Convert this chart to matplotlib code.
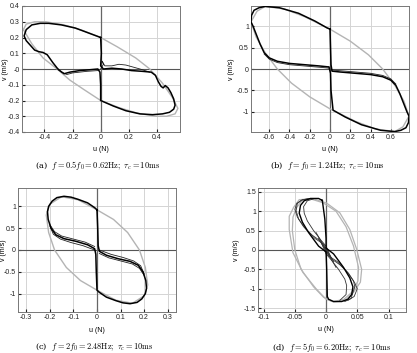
import matplotlib
matplotlib.use("Agg")
import matplotlib.pyplot as plt
import numpy as np

plt.rcParams['font.family'] = ['Liberation Sans', 'DejaVu Sans']
plt.rcParams['mathtext.fontset'] = 'cm'

# ---- panel (a): f = 0.5 f0 ----
a_u = [0, 0.005, 0.0, 0.02, 0.08, 0.15, 0.22, 0.30, 0.36, 0.39, 0.41, 0.43, 0.445, 0.46, 0.48,
       0.50, 0.52, 0.53, 0.52, 0.49, 0.44, 0.37, 0.28, 0.18, 0.09, 0.0, 0.0, -0.005, -0.02, -0.08,
       -0.15, -0.22, -0.26, -0.30, -0.34, -0.38, -0.41, -0.44, -0.47, -0.50, -0.53, -0.545, -0.53,
       -0.49, -0.43, -0.37, -0.28, -0.18, -0.09, 0.0]
a_v = [0.2, 0.1, 0.02, 0.0, 0.005, 0.0, -0.01, -0.015, -0.02, -0.04, -0.08, -0.11, -0.12, -0.105,
       -0.12, -0.15, -0.19, -0.23, -0.255, -0.275, -0.285, -0.29, -0.285, -0.265, -0.235, -0.2, -0.1,
       -0.02, 0.0, -0.005, -0.01, -0.02, -0.03, -0.005, 0.04, 0.09, 0.105, 0.11, 0.12, 0.15, 0.18,
       0.21, 0.25, 0.28, 0.29, 0.29, 0.28, 0.26, 0.23, 0.2]
a2_u = [0.0, 0.02, 0.01, 0.03, 0.08, 0.13, 0.18, 0.22, 0.28, 0.35]
a2_v = [0.0, 0.03, 0.05, 0.02, 0.02, 0.03, 0.025, 0.015, 0.0, -0.02]
a3_u = [-0.02, -0.1, -0.2, -0.24, -0.28, -0.3]
a3_v = [-0.01, -0.015, -0.025, -0.035, -0.02, 0.0]
ag_u = [-0.55, -0.53, -0.47, -0.39, -0.26, -0.13, 0.0, 0.12, 0.25, 0.35, 0.44, 0.51, 0.55, 0.53,
        0.47, 0.39, 0.26, 0.13, 0.0, -0.12, -0.22, -0.31, -0.41, -0.49, -0.55]
ag_v = [0.25, 0.285, 0.30, 0.30, 0.28, 0.245, 0.2, 0.14, 0.07, 0.0, -0.09, -0.18, -0.25, -0.285,
        -0.30, -0.30, -0.28, -0.245, -0.2, -0.13, -0.07, 0.0, 0.07, 0.16, 0.25]

# ---- panel (b): f = f0 ----
b_u = [0.0, 0.005, 0.01, 0.02, 0.1, 0.25, 0.4, 0.52, 0.6, 0.65, 0.69, 0.73, 0.76, 0.78, 0.775,
       0.75, 0.70, 0.64, 0.5, 0.31, 0.15, 0.03, 0.01, 0.005, -0.01, -0.02, -0.1, -0.25, -0.4, -0.52,
       -0.6, -0.65, -0.69, -0.73, -0.76, -0.78, -0.775, -0.75, -0.70, -0.64, -0.5, -0.31, -0.15,
       -0.03, 0.0]
b_v = [0.93, 0.5, 0.1, -0.05, -0.07, -0.1, -0.13, -0.18, -0.26, -0.38, -0.58, -0.82, -1.0, -1.1,
       -1.25, -1.37, -1.43, -1.46, -1.43, -1.30, -1.12, -0.96, -0.5, -0.1, 0.05, 0.05, 0.07, 0.1,
       0.13, 0.18, 0.26, 0.38, 0.58, 0.82, 1.0, 1.1, 1.25, 1.37, 1.43, 1.46, 1.43, 1.30, 1.12, 0.96,
       0.93]
b2_u = [0.01, 0.1, 0.25, 0.4, 0.52, 0.6, 0.65]
b2_v = [-0.02, -0.04, -0.07, -0.1, -0.15, -0.23, -0.35]
b3_u = [-0.01, -0.1, -0.25, -0.4, -0.52, -0.6, -0.65]
b3_v = [0.02, 0.04, 0.07, 0.1, 0.15, 0.23, 0.35]
bg_u = [-0.78, -0.72, -0.64, -0.45, -0.25, 0.0, 0.2, 0.38, 0.52, 0.64, 0.73, 0.78, 0.72, 0.64,
        0.45, 0.25, 0.0, -0.2, -0.38, -0.52, -0.64, -0.73, -0.78]
bg_v = [1.1, 1.35, 1.46, 1.40, 1.22, 0.93, 0.65, 0.33, 0.0, -0.38, -0.75, -1.1, -1.35, -1.46,
        -1.40, -1.22, -0.93, -0.65, -0.33, 0.0, 0.38, 0.75, 1.1]

# ---- panel (c): f = 2 f0 ----
c_u = [0.0, 0.003, 0.005, 0.01, 0.04, 0.09, 0.14, 0.175, 0.195, 0.207, 0.21, 0.205, 0.19, 0.17,
       0.14, 0.11, 0.08, 0.04, 0.01, 0.0, -0.003, -0.005, -0.01, -0.04, -0.09, -0.14, -0.175,
       -0.195, -0.207, -0.21, -0.205, -0.19, -0.17, -0.14, -0.11, -0.08, -0.04, -0.01, 0.0]
c_v = [0.92, 0.5, 0.1, -0.03, -0.12, -0.2, -0.26, -0.35, -0.5, -0.7, -0.88, -1.0, -1.12, -1.2,
       -1.23, -1.21, -1.16, -1.08, -0.97, -0.92, -0.5, -0.1, 0.03, 0.12, 0.2, 0.26, 0.35, 0.5, 0.7,
       0.88, 1.0, 1.12, 1.2, 1.23, 1.21, 1.16, 1.08, 0.97, 0.92]
c2_u = [0.01, 0.05, 0.1, 0.15, 0.18, 0.2]
c2_v = [-0.08, -0.18, -0.25, -0.32, -0.42, -0.58]
c3_u = [0.01, 0.06, 0.11, 0.155, 0.185, 0.2]
c3_v = [0.0, -0.1, -0.17, -0.25, -0.36, -0.55]
c4_u = [-0.01, -0.05, -0.1, -0.15, -0.18, -0.2]
c4_v = [0.08, 0.18, 0.25, 0.32, 0.42, 0.58]
c5_u = [-0.01, -0.06, -0.11, -0.155, -0.185, -0.2]
c5_v = [0.0, 0.1, 0.17, 0.25, 0.36, 0.55]
cg_u = [0.0, 0.07, 0.13, 0.18, 0.205, 0.215, 0.2, 0.15, 0.08, 0.0, -0.07, -0.13, -0.18, -0.205,
        -0.215, -0.2, -0.15, -0.08, 0.0]
cg_v = [0.92, 0.7, 0.4, 0.0, -0.4, -0.8, -1.05, -1.22, -1.15, -0.92, -0.7, -0.4, 0.0, 0.4, 0.8,
        1.05, 1.22, 1.15, 0.92]

# ---- panel (d): f = 5 f0 ----
d_u = [-0.006, -0.002, 0.0, 0.0, 0.012, 0.028, 0.038, 0.043, 0.041, 0.035, 0.025, 0.012, 0.004,
       0.002, 0.001, 0.0, -0.012, -0.028, -0.038, -0.043, -0.041, -0.035, -0.025, -0.012, -0.006]
d_v = [1.28, 0.8, 0.3, 0.05, -0.1, -0.45, -0.72, -0.95, -1.15, -1.27, -1.33, -1.33, -1.27, -1.2,
       -0.5, -0.05, 0.1, 0.45, 0.72, 0.95, 1.15, 1.27, 1.33, 1.33, 1.28]
de1_u = [0.012, -0.004, -0.018, -0.033, -0.044, -0.048, -0.046, -0.038, -0.025]
de1_v = [-0.3, 0.15, 0.3, 0.55, 0.8, 1.02, 1.2, 1.3, 1.33]
de2_u = [0.016, -0.008, -0.022, -0.036, -0.046, -0.05, -0.047, -0.04, -0.03]
de2_v = [-0.45, 0.22, 0.38, 0.6, 0.85, 1.05, 1.2, 1.28, 1.32]
de3_u = [0.008, 0.0, -0.008, -0.02, -0.03, -0.035, -0.036, -0.03, -0.02]
de3_v = [-0.2, 0.1, 0.25, 0.5, 0.75, 0.95, 1.12, 1.27, 1.32]
df1_u = [-0.012, 0.004, 0.018, 0.033, 0.044, 0.046, 0.04, 0.03]
df1_v = [0.3, -0.15, -0.3, -0.55, -0.8, -0.95, -1.25, -1.33]
df2_u = [-0.016, 0.008, 0.022, 0.036, 0.046, 0.05, 0.045, 0.035]
df2_v = [0.45, -0.22, -0.38, -0.6, -0.85, -1.0, -1.2, -1.3]
df3_u = [-0.008, 0.0, 0.008, 0.02, 0.03, 0.033, 0.032, 0.022]
df3_v = [0.2, -0.1, -0.25, -0.5, -0.75, -0.92, -1.15, -1.3]
dg1_u = [-0.02, 0.001, 0.022, 0.038, 0.049, 0.057, 0.055, 0.044, 0.03, 0.012, 0.0, -0.016,
         -0.037, -0.053, -0.059, -0.059, -0.052, -0.043, -0.02]
dg1_v = [1.32, 1.21, 0.96, 0.53, 0.02, -0.5, -0.83, -1.09, -1.31, -1.34, -1.27, -1.0, -0.58,
         -0.07, 0.53, 0.87, 1.1, 1.3, 1.32]
dg2_u = [-0.025, -0.005, 0.016, 0.032, 0.044, 0.052, 0.051, 0.042, 0.028, 0.01, -0.004, -0.02,
         -0.04, -0.05, -0.054, -0.053, -0.047, -0.038, -0.025]
dg2_v = [1.32, 1.22, 1.0, 0.6, 0.1, -0.45, -0.8, -1.08, -1.28, -1.33, -1.22, -0.95, -0.5, 0.0,
         0.5, 0.85, 1.1, 1.28, 1.32]

captions = [r'(a)  $f=0.5f_0=0.62\mathrm{Hz};\ \tau_c=10\mathrm{ms}$',
            r'(b)  $f=f_0=1.24\mathrm{Hz};\ \tau_c=10\mathrm{ms}$',
            r'(c)  $f=2f_0=2.48\mathrm{Hz};\ \tau_c=10\mathrm{ms}$',
            r'(d)  $f=5f_0=6.20\mathrm{Hz};\ \tau_c=10\mathrm{ms}$']

GREY = '#b4b4b4'
W, H = 417, 353


def setup(ax, xlim, ylim, xt, yt, ylab_x, xlab_x=0.5, xlab_y=-0.11):
    ax.set_xlim(xlim)
    ax.set_ylim(ylim)
    ax.set_xticks(xt)
    ax.set_yticks(yt)
    ax.set_xticklabels([('%g' % t) for t in xt])
    ax.set_yticklabels([('%g' % t) for t in yt])
    ax.grid(True, color='#d4d4d4', lw=0.7)
    ax.set_axisbelow(True)
    ax.axhline(0, color='#555555', lw=0.8, zorder=1)
    ax.axvline(0, color='#666666', lw=0.9, zorder=1)
    ax.tick_params(labelsize=5, length=2, direction='in', pad=1.5, colors='#222222')
    for s in ax.spines.values():
        s.set_color('#777777')
        s.set_linewidth(0.7)
    ax.set_xlabel('u (N)', fontsize=5)
    ax.set_ylabel('v (m/s)', fontsize=5)
    ax.xaxis.set_label_coords(xlab_x, xlab_y)
    ax.yaxis.set_label_coords(ylab_x, 0.5)


fig = plt.figure(figsize=(W / 100, H / 100), dpi=100)


def box(l, t, r, b):
    return [l / W, 1 - b / H, (r - l) / W, (b - t) / H]


axa = fig.add_axes(box(22, 6, 180, 132))
axb = fig.add_axes(box(251, 6, 409, 132))
axc = fig.add_axes(box(18, 188, 176, 312))
axd = fig.add_axes(box(258, 188, 406, 312))

# (a)
setup(axa, (-0.56, 0.565), (-0.4, 0.4), [-0.4, -0.2, 0, 0.2, 0.4],
      np.round(np.arange(-0.4, 0.41, 0.1), 1), -0.085)
axa.plot(ag_u, ag_v, color=GREY, lw=1.0, zorder=2)
axa.plot(a2_u, a2_v, color='#222222', lw=0.6, zorder=3)
axa.plot(a3_u, a3_v, color='#222222', lw=0.6, zorder=3)
axa.plot(a_u, a_v, color='black', lw=1.1, zorder=3)

# (b)
setup(axb, (-0.78, 0.78), (-1.47, 1.47), [-0.6, -0.4, -0.2, 0, 0.2, 0.4, 0.6],
      [-1, -0.5, 0, 0.5, 1], -0.1)
axb.plot(bg_u, bg_v, color=GREY, lw=1.0, zorder=2)
axb.plot(b2_u, b2_v, color='#222222', lw=0.6, zorder=3)
axb.plot(b3_u, b3_v, color='#222222', lw=0.6, zorder=3)
axb.plot(b_u, b_v, color='black', lw=1.1, zorder=3)

# (c)
setup(axc, (-0.335, 0.335), (-1.42, 1.42), [-0.3, -0.2, -0.1, 0, 0.1, 0.2, 0.3],
      [-1, -0.5, 0, 0.5, 1], -0.07, xlab_y=-0.12)
axc.plot(cg_u, cg_v, color=GREY, lw=1.0, zorder=2)
for uu, vv in [(c2_u, c2_v), (c3_u, c3_v), (c4_u, c4_v), (c5_u, c5_v)]:
    axc.plot(uu, vv, color='#222222', lw=0.6, zorder=3)
axc.plot(c_u, c_v, color='black', lw=1.1, zorder=3)

# (d)
setup(axd, (-0.109, 0.128), (-1.6, 1.6), [-0.1, -0.05, 0, 0.05, 0.1],
      [-1.5, -1, -0.5, 0, 0.5, 1, 1.5], -0.125, xlab_x=0.46, xlab_y=-0.115)
axd.plot(dg1_u, dg1_v, color=GREY, lw=0.9, zorder=2)
axd.plot(dg2_u, dg2_v, color=GREY, lw=0.9, zorder=2)
for uu, vv in [(de1_u, de1_v), (de2_u, de2_v), (de3_u, de3_v),
               (df1_u, df1_v), (df2_u, df2_v), (df3_u, df3_v)]:
    axd.plot(uu, vv, color='#333333', lw=0.6, zorder=3)
axd.plot(d_u, d_v, color='black', lw=1.0, zorder=3)

for (x, y), cap in zip([(98, 166), (327, 166), (94, 347), (332, 347)], captions):
    fig.text(x / W, 1 - y / H, cap, ha='center', va='center', fontsize=6, family='DejaVu Serif')

fig.savefig('out.png', dpi=100)
